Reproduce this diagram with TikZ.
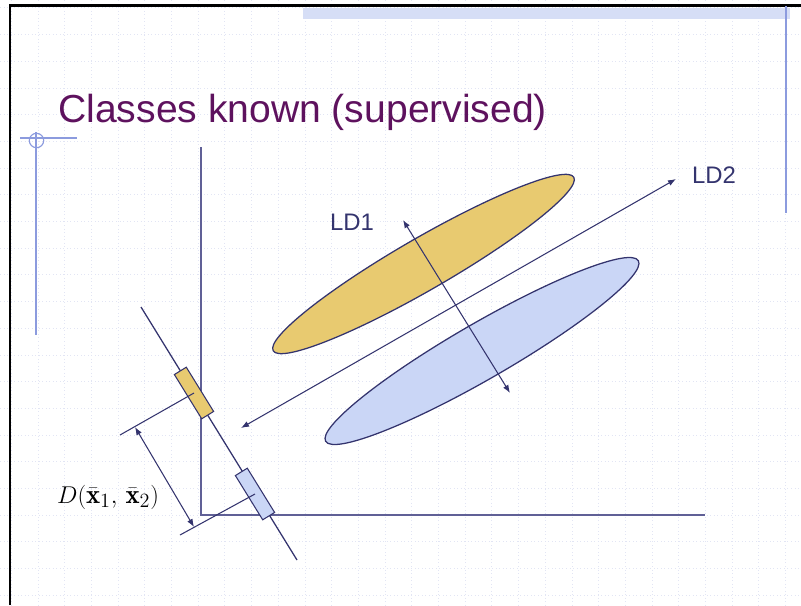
\documentclass[tikz,border=0pt]{standalone}
\usepackage{fontspec}
\newfontfamily\slidefont{Liberation Sans}
\usetikzlibrary{arrows.meta, shapes.geometric}

\definecolor{titlepurple}{RGB}{94,18,94}
\definecolor{linenavy}{RGB}{52,52,110}
\definecolor{axisnavy}{RGB}{96,96,150}
\definecolor{decoblue}{RGB}{140,155,222}
\definecolor{barblue}{RGB}{214,222,246}
\definecolor{gridblue}{RGB}{226,229,244}
\definecolor{classyellow}{RGB}{232,202,112}
\definecolor{classblue}{RGB}{202,214,246}

\begin{document}
\begin{tikzpicture}[x=0.025cm, y=-0.025cm,
        grid/.style   = {draw=gridblue, dotted, line width=0.5pt},
        deco/.style   = {draw=decoblue, line width=0.8pt},
        axis/.style   = {draw=axisnavy, line width=1.1pt},
        ln/.style     = {draw=linenavy, line width=0.75pt},
        ar/.style     = {{Latex[length=2mm,width=1.5mm]}-{Latex[length=2mm,width=1.5mm]}, draw=linenavy, line width=0.75pt},
        cls/.style    = {ellipse, draw=linenavy, line width=0.9pt, inner sep=0pt, rotate=30},
        proj/.style   = {rectangle, draw=linenavy, line width=0.75pt, minimum width=1.3cm, minimum height=0.35cm, inner sep=0pt, rotate=-58.3},
        lbl/.style    = {font=\slidefont\fontsize{17}{20}\selectfont, text=linenavy, inner sep=0pt},
        heading/.style = {font=\slidefont\fontsize{27.8}{33}\selectfont, text=titlepurple, inner sep=0pt}
    ]
        \useasboundingbox (0,0) rectangle (801,605);

        % slide background
        \foreach \gx in {0,...,29}
            \draw[grid] ({11.2+26.7*\gx},0) -- ({11.2+26.7*\gx},605);
        \foreach \gy in {0,...,22}
            \draw[grid] (0,{7.8+26.7*\gy}) -- (801,{7.8+26.7*\gy});
        \fill[barblue] (303,8) rectangle (790,19);
        \draw[line width=2.1pt] (10,605) -- (10,5.5) -- (801,5.5);
        \draw[deco] (786,6) -- (786,213);
        \draw[deco] (20,138) -- (77,138);
        \draw[deco] (36,132) -- (36,335);
        \draw[deco] (36.5,140.5) circle (0.18cm);

        \node[heading, anchor=base west] (title) at (58,122.5) {Classes known (supervised)};

        % the two classes
        \node[cls, fill=classyellow, minimum width=8.675cm, minimum height=1.3cm] (c1) at (423.5,264) {};
        \node[cls, fill=classblue, minimum width=9.025cm, minimum height=1.4cm] (c2) at (482,351) {};

        % axes
        \coordinate (ytop) at (201,147);
        \coordinate (o)    at (201,515);
        \coordinate (xend) at (705,515);
        \draw[axis] (ytop) -- (o) -- (xend);

        % discriminant directions
        \coordinate (a2) at (241,428);
        \coordinate (b2) at (676,179);
        \draw[ar] (a2) -- (b2);
        \coordinate (a1) at (403,220);
        \coordinate (b1) at (510,393);
        \draw[ar] (a1) -- (b1);
        \node[lbl] (ld1) at (352,222) {LD1};
        \node[lbl] (ld2) at (714,175) {LD2};

        % projection onto LD1
        \coordinate (p1) at (141,307);
        \coordinate (p2) at (297,560);
        \draw[ln, line width=0.9pt] (p1) -- (p2);
        \node[proj, fill=classyellow] (m1) at (194,393) {};
        \node[proj, fill=classblue]   (m2) at (255,494) {};

        \coordinate (e1) at (120,435);
        \coordinate (e2) at (180,535);
        \draw[ln] (m1.center) -- (e1);
        \draw[ln] (m2.center) -- (e2);

        \coordinate (d1) at (135,427);
        \coordinate (d2) at (194,527);
        \draw[ar] (d1) -- (d2);
        \node[font=\fontsize{19}{22}\selectfont, inner sep=0pt] (dist) at (108,497) {$D(\bar{\mathbf{x}}_1,\,\bar{\mathbf{x}}_2)$};
\end{tikzpicture}
\end{document}
